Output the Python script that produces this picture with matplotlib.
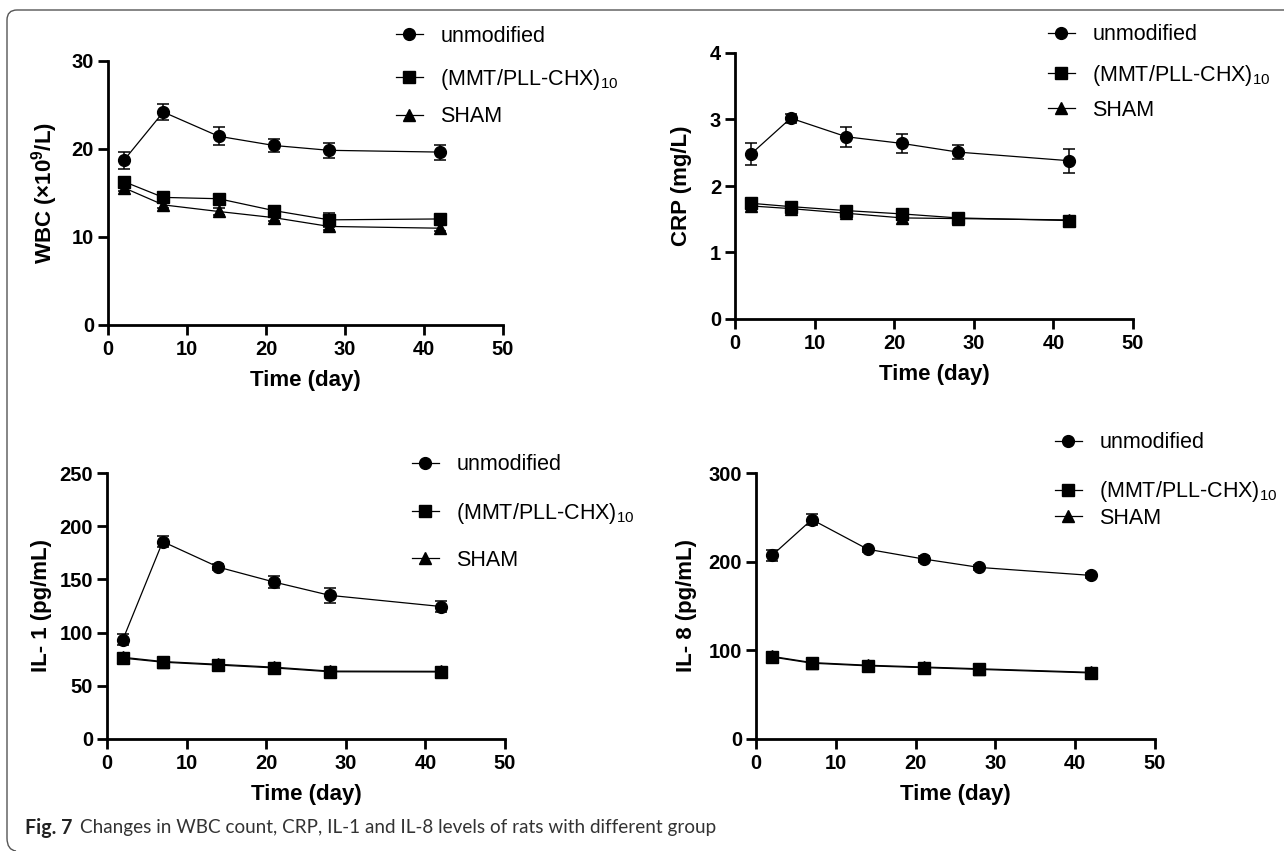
import matplotlib
matplotlib.use("Agg")
import matplotlib.pyplot as plt
from matplotlib.path import Path
from matplotlib.patches import PathPatch
import numpy as np

# ---------------- data ----------------
days = [2, 7, 14, 21, 28, 42]
series_names = ["unmodified", "(MMT/PLL-CHX)$_{10}$", "SHAM"]

wbc_unmod = [18.7, 24.2, 21.45, 20.4, 19.85, 19.65]
wbc_unmod_err = [1.0, 0.95, 1.0, 0.75, 0.85, 0.85]
wbc_mmt = [16.3, 14.5, 14.35, 13.0, 11.95, 12.05]
wbc_mmt_err = [0.5, 0.4, 0.4, 0.4, 0.8, 0.4]
wbc_sham = [15.6, 13.65, 12.9, 12.2, 11.2, 11.0]
wbc_sham_err = [0.4, 0.4, 0.35, 0.35, 0.4, 0.35]

crp_unmod = [2.48, 3.02, 2.74, 2.64, 2.51, 2.38]
crp_unmod_err = [0.17, 0.07, 0.15, 0.14, 0.11, 0.18]
crp_mmt = [1.74, 1.69, 1.63, 1.58, 1.52, 1.48]
crp_mmt_err = [0.04, 0.03, 0.03, 0.04, 0.03, 0.03]
crp_sham = [1.70, 1.66, 1.59, 1.52, 1.51, 1.49]
crp_sham_err = [0.03, 0.03, 0.03, 0.03, 0.03, 0.05]

il1_unmod = [93.5, 185.5, 161.5, 147.5, 135.0, 124.5]
il1_unmod_err = [5.5, 5.0, 3.0, 5.5, 7.0, 5.5]
il1_mmt = [76.0, 72.2, 69.5, 66.8, 63.2, 63.0]
il1_mmt_err = [2.5, 2.0, 2.0, 2.0, 2.0, 2.0]
il1_sham = [76.8, 72.8, 70.2, 67.5, 63.8, 63.6]
il1_sham_err = [2.0, 2.0, 2.0, 2.0, 2.0, 2.0]

il8_unmod = [207.0, 247.5, 214.0, 203.0, 193.5, 184.5]
il8_unmod_err = [6.5, 6.0, 3.0, 3.0, 3.0, 3.0]
il8_mmt = [92.5, 85.5, 82.5, 80.5, 78.5, 74.5]
il8_mmt_err = [2.5, 2.0, 2.0, 2.0, 2.0, 2.0]
il8_sham = [93.2, 86.2, 83.2, 81.2, 79.2, 75.2]
il8_sham_err = [2.0, 2.0, 2.0, 2.0, 2.0, 2.0]

ylabels = ["WBC (×10$^\\mathbf{9}$/L)", "CRP (mg/L)", "IL- 1 (pg/mL)", "IL- 8 (pg/mL)"]
ylims = [30, 4, 250, 300]
ysteps = [10, 1, 50, 100]
xlabel = "Time (day)"
caption_bold = "Fig. 7"
caption_rest = "Changes in WBC count, CRP, IL-1 and IL-8 levels of rats with different group"

# ---------------- style ----------------
plt.rcParams["font.family"] = ["Liberation Sans", "DejaVu Sans"]
plt.rcParams["mathtext.fontset"] = "custom"
plt.rcParams["mathtext.rm"] = "Liberation Sans"
plt.rcParams["mathtext.bf"] = "Liberation Sans:bold"
plt.rcParams["mathtext.it"] = "Liberation Sans:italic"

W, H = 1284, 851
fig = plt.figure(figsize=(W / 100, H / 100), dpi=100)
fig.patch.set_facecolor("white")

def px_axes(l, r, t, b):
    return fig.add_axes([l / W, 1 - b / H, (r - l) / W, (b - t) / H])

# axes boxes in pixels (left, right, top, bottom)
boxes = [(108, 503, 61, 325), (735, 1133, 53, 319), (107, 505, 473, 739), (756, 1155, 473, 739)]
ylabel_off = [63, 54, 66, 69]
legend_x = [396, 1048, 412, 1055]
legend_rows = [(36, 79, 117), (35, 75, 110), (465, 513, 560), (443, 492, 518)]

data = [
    [(wbc_unmod, wbc_unmod_err), (wbc_mmt, wbc_mmt_err), (wbc_sham, wbc_sham_err)],
    [(crp_unmod, crp_unmod_err), (crp_mmt, crp_mmt_err), (crp_sham, crp_sham_err)],
    [(il1_unmod, il1_unmod_err), (il1_mmt, il1_mmt_err), (il1_sham, il1_sham_err)],
    [(il8_unmod, il8_unmod_err), (il8_mmt, il8_mmt_err), (il8_sham, il8_sham_err)],
]
markers = ["o", "s", "^"]
msizes = [8.5, 8, 8]
leg_fs = 15.5

for i in range(4):
    l, r, t, b = boxes[i]
    ax = px_axes(l, r, t, b)
    handles = [None, None, None]
    for k in [2, 1, 0]:
        vals, errs = data[i][k]
        cont = ax.errorbar(days, vals, yerr=errs, fmt="-", marker=markers[k],
                           color="black", ms=msizes[k], lw=0.9, elinewidth=1.1,
                           capsize=4, capthick=1.1, clip_on=False, zorder=3 + (2 - k))
        handles[k] = cont[0]
    ax.set_xlim(0, 50)
    ax.set_ylim(0, ylims[i])
    ax.set_xticks(np.arange(0, 51, 10))
    ax.set_yticks(np.arange(0, ylims[i] + 0.001, ysteps[i]))
    for s in ["top", "right"]:
        ax.spines[s].set_visible(False)
    for s in ["left", "bottom"]:
        ax.spines[s].set_linewidth(2.0)
    ax.tick_params(axis="both", length=7, width=2.0, labelsize=14.5)
    ax.tick_params(axis="y", pad=3)
    ax.tick_params(axis="x", pad=4)
    for lab in ax.get_xticklabels() + ax.get_yticklabels():
        lab.set_fontweight("bold")
    ax.set_xlabel(xlabel, fontsize=16, fontweight="bold", labelpad=8)
    ax.text(-ylabel_off[i] / (r - l), 0.5, ylabels[i], transform=ax.transAxes,
            rotation=90, ha="center", va="center", fontsize=16, fontweight="bold")
    for k in range(3):
        y = legend_rows[i][k]
        fig.legend([handles[k]], [series_names[k]], loc="center left",
                   bbox_to_anchor=(legend_x[i] / W, 1 - y / H),
                   frameon=False, fontsize=leg_fs, borderpad=0, borderaxespad=0,
                   handlelength=1.25, handletextpad=0.8, numpoints=1)

# ---------------- frame ----------------
verts = [(1.0, 1 - 10 / H), (17 / W, 1 - 10 / H), (7 / W, 1 - 10 / H), (7 / W, 1 - 20 / H),
         (7 / W, 1 - 838 / H), (7 / W, 1 - 850 / H), (16 / W, 1 - 851 / H)]
codes = [Path.MOVETO, Path.LINETO, Path.CURVE3, Path.CURVE3, Path.LINETO, Path.CURVE3, Path.CURVE3]
fig.add_artist(PathPatch(Path(verts, codes), transform=fig.transFigure, fill=False,
                         edgecolor="#555555", lw=1.0))

# ---------------- caption ----------------
renderer = fig.canvas.get_renderer()
cap_y = 1 - 828 / H
t2 = fig.text(80 / W, cap_y, caption_rest, fontsize=12, family="Lato",
              va="center", ha="left", color="#333333")
bb = t2.get_window_extent(renderer)
fs = 12 * 632 / bb.width
t2.set_fontsize(fs)
t1 = fig.text(25 / W, cap_y, caption_bold, fontsize=fs, family="Lato",
              fontweight="bold", va="center", ha="left", color="#222222")
bb1 = t1.get_window_extent(renderer)
t1.set_fontsize(fs * min(1.15, 47 / bb1.width))

fig.savefig("out.png", dpi=100, facecolor="white")
